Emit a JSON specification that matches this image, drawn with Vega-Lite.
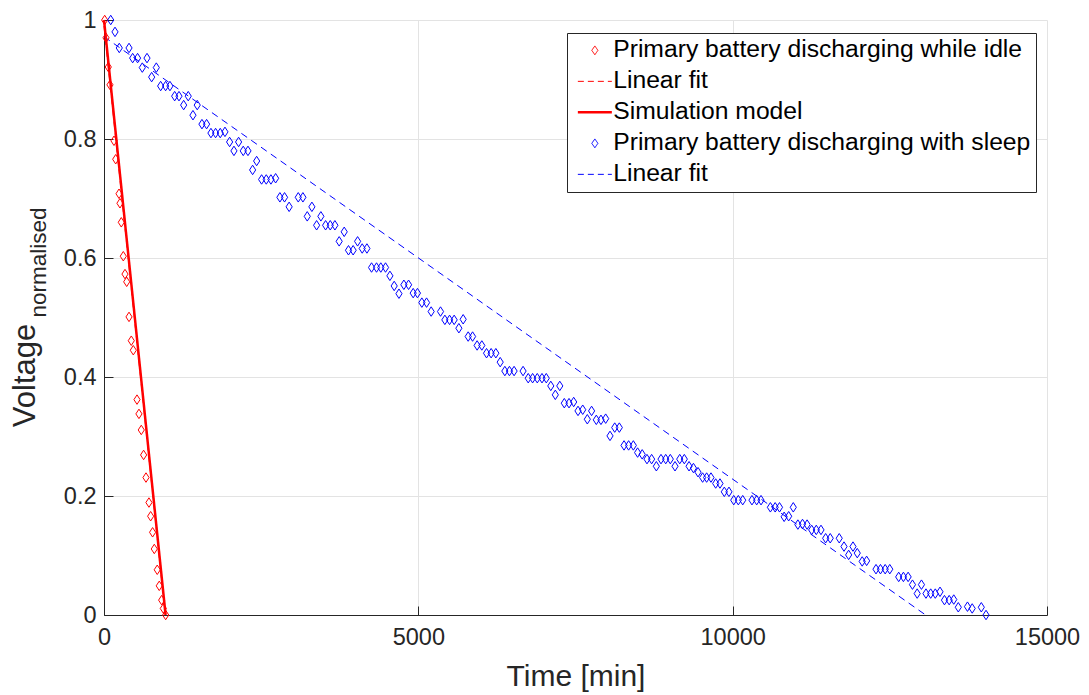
{
  "$schema": "https://vega.github.io/schema/vega-lite/v6.json",
  "width": 943,
  "height": 595,
  "autosize": {"type": "none"},
  "padding": {"left": 104, "top": 20, "right": 42, "bottom": 80},
  "background": "white",
  "config": {
    "font": "Liberation Sans",
    "view": {"stroke": null},
    "axis": {
      "labelFont": "Liberation Sans",
      "titleFont": "Liberation Sans",
      "labelColor": "#262626",
      "titleColor": "#262626",
      "titleFontWeight": "normal",
      "domainColor": "#262626",
      "tickColor": "#262626",
      "gridColor": "#e3e3e3",
      "labelFlush": false,
      "labelOverlap": false,
      "labelBound": false
    },
    "legend": {
      "labelFont": "Liberation Sans"
    }
  },
  "datasets": {
    "measured": [
      {"series": "Primary battery discharging while idle", "time": 11, "voltage": 1.0},
      {"series": "Primary battery discharging while idle", "time": 32, "voltage": 0.97},
      {"series": "Primary battery discharging while idle", "time": 68, "voltage": 0.921},
      {"series": "Primary battery discharging while idle", "time": 95, "voltage": 0.891},
      {"series": "Primary battery discharging while idle", "time": 159, "voltage": 0.797},
      {"series": "Primary battery discharging while idle", "time": 186, "voltage": 0.766},
      {"series": "Primary battery discharging while idle", "time": 239, "voltage": 0.708},
      {"series": "Primary battery discharging while idle", "time": 254, "voltage": 0.692},
      {"series": "Primary battery discharging while idle", "time": 275, "voltage": 0.66},
      {"series": "Primary battery discharging while idle", "time": 307, "voltage": 0.603},
      {"series": "Primary battery discharging while idle", "time": 334, "voltage": 0.573},
      {"series": "Primary battery discharging while idle", "time": 361, "voltage": 0.56},
      {"series": "Primary battery discharging while idle", "time": 398, "voltage": 0.501},
      {"series": "Primary battery discharging while idle", "time": 434, "voltage": 0.461},
      {"series": "Primary battery discharging while idle", "time": 466, "voltage": 0.445},
      {"series": "Primary battery discharging while idle", "time": 525, "voltage": 0.362},
      {"series": "Primary battery discharging while idle", "time": 556, "voltage": 0.338},
      {"series": "Primary battery discharging while idle", "time": 593, "voltage": 0.311},
      {"series": "Primary battery discharging while idle", "time": 630, "voltage": 0.269},
      {"series": "Primary battery discharging while idle", "time": 668, "voltage": 0.231},
      {"series": "Primary battery discharging while idle", "time": 715, "voltage": 0.189},
      {"series": "Primary battery discharging while idle", "time": 742, "voltage": 0.166},
      {"series": "Primary battery discharging while idle", "time": 773, "voltage": 0.139},
      {"series": "Primary battery discharging while idle", "time": 800, "voltage": 0.111},
      {"series": "Primary battery discharging while idle", "time": 847, "voltage": 0.076},
      {"series": "Primary battery discharging while idle", "time": 879, "voltage": 0.049},
      {"series": "Primary battery discharging while idle", "time": 917, "voltage": 0.025},
      {"series": "Primary battery discharging while idle", "time": 943, "voltage": 0.011},
      {"series": "Primary battery discharging while idle", "time": 981, "voltage": 0.0},
      {"series": "Primary battery discharging with sleep", "time": 107, "voltage": 1.0},
      {"series": "Primary battery discharging with sleep", "time": 175, "voltage": 0.98},
      {"series": "Primary battery discharging with sleep", "time": 243, "voltage": 0.953},
      {"series": "Primary battery discharging with sleep", "time": 398, "voltage": 0.953},
      {"series": "Primary battery discharging with sleep", "time": 456, "voltage": 0.936},
      {"series": "Primary battery discharging with sleep", "time": 534, "voltage": 0.936},
      {"series": "Primary battery discharging with sleep", "time": 609, "voltage": 0.92},
      {"series": "Primary battery discharging with sleep", "time": 684, "voltage": 0.936},
      {"series": "Primary battery discharging with sleep", "time": 758, "voltage": 0.904},
      {"series": "Primary battery discharging with sleep", "time": 832, "voltage": 0.92},
      {"series": "Primary battery discharging with sleep", "time": 901, "voltage": 0.889},
      {"series": "Primary battery discharging with sleep", "time": 980, "voltage": 0.889},
      {"series": "Primary battery discharging with sleep", "time": 1049, "voltage": 0.889},
      {"series": "Primary battery discharging with sleep", "time": 1124, "voltage": 0.872},
      {"series": "Primary battery discharging with sleep", "time": 1193, "voltage": 0.872},
      {"series": "Primary battery discharging with sleep", "time": 1267, "voltage": 0.857},
      {"series": "Primary battery discharging with sleep", "time": 1340, "voltage": 0.872},
      {"series": "Primary battery discharging with sleep", "time": 1415, "voltage": 0.84},
      {"series": "Primary battery discharging with sleep", "time": 1483, "voltage": 0.857},
      {"series": "Primary battery discharging with sleep", "time": 1558, "voltage": 0.825},
      {"series": "Primary battery discharging with sleep", "time": 1632, "voltage": 0.825},
      {"series": "Primary battery discharging with sleep", "time": 1701, "voltage": 0.81},
      {"series": "Primary battery discharging with sleep", "time": 1775, "voltage": 0.81},
      {"series": "Primary battery discharging with sleep", "time": 1849, "voltage": 0.81},
      {"series": "Primary battery discharging with sleep", "time": 1924, "voltage": 0.812},
      {"series": "Primary battery discharging with sleep", "time": 1998, "voltage": 0.795},
      {"series": "Primary battery discharging with sleep", "time": 2067, "voltage": 0.78},
      {"series": "Primary battery discharging with sleep", "time": 2141, "voltage": 0.795},
      {"series": "Primary battery discharging with sleep", "time": 2215, "voltage": 0.78},
      {"series": "Primary battery discharging with sleep", "time": 2290, "voltage": 0.78},
      {"series": "Primary battery discharging with sleep", "time": 2364, "voltage": 0.748},
      {"series": "Primary battery discharging with sleep", "time": 2428, "voltage": 0.763},
      {"series": "Primary battery discharging with sleep", "time": 2507, "voltage": 0.732},
      {"series": "Primary battery discharging with sleep", "time": 2581, "voltage": 0.732},
      {"series": "Primary battery discharging with sleep", "time": 2655, "voltage": 0.732},
      {"series": "Primary battery discharging with sleep", "time": 2730, "voltage": 0.734},
      {"series": "Primary battery discharging with sleep", "time": 2798, "voltage": 0.702},
      {"series": "Primary battery discharging with sleep", "time": 2872, "voltage": 0.702},
      {"series": "Primary battery discharging with sleep", "time": 2945, "voltage": 0.686},
      {"series": "Primary battery discharging with sleep", "time": 3090, "voltage": 0.702},
      {"series": "Primary battery discharging with sleep", "time": 3164, "voltage": 0.702},
      {"series": "Primary battery discharging with sleep", "time": 3233, "voltage": 0.67},
      {"series": "Primary battery discharging with sleep", "time": 3307, "voltage": 0.686},
      {"series": "Primary battery discharging with sleep", "time": 3382, "voltage": 0.655},
      {"series": "Primary battery discharging with sleep", "time": 3450, "voltage": 0.67},
      {"series": "Primary battery discharging with sleep", "time": 3525, "voltage": 0.655},
      {"series": "Primary battery discharging with sleep", "time": 3599, "voltage": 0.655},
      {"series": "Primary battery discharging with sleep", "time": 3673, "voltage": 0.655},
      {"series": "Primary battery discharging with sleep", "time": 3741, "voltage": 0.628},
      {"series": "Primary battery discharging with sleep", "time": 3821, "voltage": 0.644},
      {"series": "Primary battery discharging with sleep", "time": 3889, "voltage": 0.613},
      {"series": "Primary battery discharging with sleep", "time": 3963, "voltage": 0.613},
      {"series": "Primary battery discharging with sleep", "time": 4034, "voltage": 0.628},
      {"series": "Primary battery discharging with sleep", "time": 4107, "voltage": 0.616},
      {"series": "Primary battery discharging with sleep", "time": 4182, "voltage": 0.616},
      {"series": "Primary battery discharging with sleep", "time": 4256, "voltage": 0.584},
      {"series": "Primary battery discharging with sleep", "time": 4335, "voltage": 0.584},
      {"series": "Primary battery discharging with sleep", "time": 4403, "voltage": 0.584},
      {"series": "Primary battery discharging with sleep", "time": 4478, "voltage": 0.584},
      {"series": "Primary battery discharging with sleep", "time": 4548, "voltage": 0.57},
      {"series": "Primary battery discharging with sleep", "time": 4616, "voltage": 0.553},
      {"series": "Primary battery discharging with sleep", "time": 4692, "voltage": 0.54},
      {"series": "Primary battery discharging with sleep", "time": 4770, "voltage": 0.555},
      {"series": "Primary battery discharging with sleep", "time": 4845, "voltage": 0.555},
      {"series": "Primary battery discharging with sleep", "time": 4918, "voltage": 0.541},
      {"series": "Primary battery discharging with sleep", "time": 4986, "voltage": 0.541},
      {"series": "Primary battery discharging with sleep", "time": 5056, "voltage": 0.525},
      {"series": "Primary battery discharging with sleep", "time": 5131, "voltage": 0.525},
      {"series": "Primary battery discharging with sleep", "time": 5204, "voltage": 0.51},
      {"series": "Primary battery discharging with sleep", "time": 5353, "voltage": 0.51},
      {"series": "Primary battery discharging with sleep", "time": 5422, "voltage": 0.496},
      {"series": "Primary battery discharging with sleep", "time": 5497, "voltage": 0.496},
      {"series": "Primary battery discharging with sleep", "time": 5570, "voltage": 0.496},
      {"series": "Primary battery discharging with sleep", "time": 5645, "voltage": 0.482},
      {"series": "Primary battery discharging with sleep", "time": 5713, "voltage": 0.497},
      {"series": "Primary battery discharging with sleep", "time": 5793, "voltage": 0.468},
      {"series": "Primary battery discharging with sleep", "time": 5863, "voltage": 0.468},
      {"series": "Primary battery discharging with sleep", "time": 5935, "voltage": 0.453},
      {"series": "Primary battery discharging with sleep", "time": 6010, "voltage": 0.453},
      {"series": "Primary battery discharging with sleep", "time": 6085, "voltage": 0.44},
      {"series": "Primary battery discharging with sleep", "time": 6158, "voltage": 0.44},
      {"series": "Primary battery discharging with sleep", "time": 6233, "voltage": 0.44},
      {"series": "Primary battery discharging with sleep", "time": 6302, "voltage": 0.425},
      {"series": "Primary battery discharging with sleep", "time": 6376, "voltage": 0.41},
      {"series": "Primary battery discharging with sleep", "time": 6449, "voltage": 0.41},
      {"series": "Primary battery discharging with sleep", "time": 6523, "voltage": 0.41},
      {"series": "Primary battery discharging with sleep", "time": 6666, "voltage": 0.41},
      {"series": "Primary battery discharging with sleep", "time": 6748, "voltage": 0.398},
      {"series": "Primary battery discharging with sleep", "time": 6818, "voltage": 0.398},
      {"series": "Primary battery discharging with sleep", "time": 6892, "voltage": 0.398},
      {"series": "Primary battery discharging with sleep", "time": 6967, "voltage": 0.398},
      {"series": "Primary battery discharging with sleep", "time": 7035, "voltage": 0.398},
      {"series": "Primary battery discharging with sleep", "time": 7107, "voltage": 0.385},
      {"series": "Primary battery discharging with sleep", "time": 7179, "voltage": 0.37},
      {"series": "Primary battery discharging with sleep", "time": 7250, "voltage": 0.385},
      {"series": "Primary battery discharging with sleep", "time": 7322, "voltage": 0.356},
      {"series": "Primary battery discharging with sleep", "time": 7397, "voltage": 0.356},
      {"series": "Primary battery discharging with sleep", "time": 7471, "voltage": 0.358},
      {"series": "Primary battery discharging with sleep", "time": 7540, "voltage": 0.343},
      {"series": "Primary battery discharging with sleep", "time": 7615, "voltage": 0.345},
      {"series": "Primary battery discharging with sleep", "time": 7688, "voltage": 0.329},
      {"series": "Primary battery discharging with sleep", "time": 7756, "voltage": 0.343},
      {"series": "Primary battery discharging with sleep", "time": 7831, "voltage": 0.328},
      {"series": "Primary battery discharging with sleep", "time": 7905, "voltage": 0.328},
      {"series": "Primary battery discharging with sleep", "time": 7980, "voltage": 0.33},
      {"series": "Primary battery discharging with sleep", "time": 8049, "voltage": 0.301},
      {"series": "Primary battery discharging with sleep", "time": 8124, "voltage": 0.315},
      {"series": "Primary battery discharging with sleep", "time": 8197, "voltage": 0.315},
      {"series": "Primary battery discharging with sleep", "time": 8272, "voltage": 0.285},
      {"series": "Primary battery discharging with sleep", "time": 8345, "voltage": 0.285},
      {"series": "Primary battery discharging with sleep", "time": 8420, "voltage": 0.285},
      {"series": "Primary battery discharging with sleep", "time": 8488, "voltage": 0.273},
      {"series": "Primary battery discharging with sleep", "time": 8561, "voltage": 0.27},
      {"series": "Primary battery discharging with sleep", "time": 8637, "voltage": 0.262},
      {"series": "Primary battery discharging with sleep", "time": 8711, "voltage": 0.262},
      {"series": "Primary battery discharging with sleep", "time": 8786, "voltage": 0.25},
      {"series": "Primary battery discharging with sleep", "time": 8860, "voltage": 0.262},
      {"series": "Primary battery discharging with sleep", "time": 8935, "voltage": 0.262},
      {"series": "Primary battery discharging with sleep", "time": 9008, "voltage": 0.262},
      {"series": "Primary battery discharging with sleep", "time": 9083, "voltage": 0.25},
      {"series": "Primary battery discharging with sleep", "time": 9158, "voltage": 0.262},
      {"series": "Primary battery discharging with sleep", "time": 9231, "voltage": 0.262},
      {"series": "Primary battery discharging with sleep", "time": 9306, "voltage": 0.25},
      {"series": "Primary battery discharging with sleep", "time": 9376, "voltage": 0.247},
      {"series": "Primary battery discharging with sleep", "time": 9449, "voltage": 0.24},
      {"series": "Primary battery discharging with sleep", "time": 9522, "voltage": 0.231},
      {"series": "Primary battery discharging with sleep", "time": 9586, "voltage": 0.231},
      {"series": "Primary battery discharging with sleep", "time": 9655, "voltage": 0.231},
      {"series": "Primary battery discharging with sleep", "time": 9730, "voltage": 0.221},
      {"series": "Primary battery discharging with sleep", "time": 9798, "voltage": 0.221},
      {"series": "Primary battery discharging with sleep", "time": 9867, "voltage": 0.207},
      {"series": "Primary battery discharging with sleep", "time": 9941, "voltage": 0.207},
      {"series": "Primary battery discharging with sleep", "time": 10017, "voltage": 0.193},
      {"series": "Primary battery discharging with sleep", "time": 10090, "voltage": 0.193},
      {"series": "Primary battery discharging with sleep", "time": 10160, "voltage": 0.193},
      {"series": "Primary battery discharging with sleep", "time": 10307, "voltage": 0.193},
      {"series": "Primary battery discharging with sleep", "time": 10382, "voltage": 0.193},
      {"series": "Primary battery discharging with sleep", "time": 10451, "voltage": 0.193},
      {"series": "Primary battery discharging with sleep", "time": 10600, "voltage": 0.181},
      {"series": "Primary battery discharging with sleep", "time": 10676, "voltage": 0.181},
      {"series": "Primary battery discharging with sleep", "time": 10745, "voltage": 0.181},
      {"series": "Primary battery discharging with sleep", "time": 10819, "voltage": 0.165},
      {"series": "Primary battery discharging with sleep", "time": 10891, "voltage": 0.166},
      {"series": "Primary battery discharging with sleep", "time": 10964, "voltage": 0.181},
      {"series": "Primary battery discharging with sleep", "time": 11037, "voltage": 0.152},
      {"series": "Primary battery discharging with sleep", "time": 11111, "voltage": 0.153},
      {"series": "Primary battery discharging with sleep", "time": 11184, "voltage": 0.152},
      {"series": "Primary battery discharging with sleep", "time": 11257, "voltage": 0.143},
      {"series": "Primary battery discharging with sleep", "time": 11330, "voltage": 0.143},
      {"series": "Primary battery discharging with sleep", "time": 11405, "voltage": 0.143},
      {"series": "Primary battery discharging with sleep", "time": 11479, "voltage": 0.129},
      {"series": "Primary battery discharging with sleep", "time": 11552, "voltage": 0.129},
      {"series": "Primary battery discharging with sleep", "time": 11695, "voltage": 0.129},
      {"series": "Primary battery discharging with sleep", "time": 11771, "voltage": 0.115},
      {"series": "Primary battery discharging with sleep", "time": 11845, "voltage": 0.101},
      {"series": "Primary battery discharging with sleep", "time": 11914, "voltage": 0.115},
      {"series": "Primary battery discharging with sleep", "time": 11982, "voltage": 0.104},
      {"series": "Primary battery discharging with sleep", "time": 12060, "voltage": 0.09},
      {"series": "Primary battery discharging with sleep", "time": 12131, "voltage": 0.091},
      {"series": "Primary battery discharging with sleep", "time": 12280, "voltage": 0.077},
      {"series": "Primary battery discharging with sleep", "time": 12351, "voltage": 0.077},
      {"series": "Primary battery discharging with sleep", "time": 12426, "voltage": 0.077},
      {"series": "Primary battery discharging with sleep", "time": 12499, "voltage": 0.077},
      {"series": "Primary battery discharging with sleep", "time": 12641, "voltage": 0.064},
      {"series": "Primary battery discharging with sleep", "time": 12716, "voltage": 0.064},
      {"series": "Primary battery discharging with sleep", "time": 12791, "voltage": 0.064},
      {"series": "Primary battery discharging with sleep", "time": 12860, "voltage": 0.051},
      {"series": "Primary battery discharging with sleep", "time": 12935, "voltage": 0.036},
      {"series": "Primary battery discharging with sleep", "time": 13003, "voltage": 0.051},
      {"series": "Primary battery discharging with sleep", "time": 13075, "voltage": 0.036},
      {"series": "Primary battery discharging with sleep", "time": 13150, "voltage": 0.036},
      {"series": "Primary battery discharging with sleep", "time": 13223, "voltage": 0.036},
      {"series": "Primary battery discharging with sleep", "time": 13298, "voltage": 0.039},
      {"series": "Primary battery discharging with sleep", "time": 13369, "voltage": 0.025},
      {"series": "Primary battery discharging with sleep", "time": 13444, "voltage": 0.025},
      {"series": "Primary battery discharging with sleep", "time": 13517, "voltage": 0.026},
      {"series": "Primary battery discharging with sleep", "time": 13589, "voltage": 0.013},
      {"series": "Primary battery discharging with sleep", "time": 13735, "voltage": 0.014},
      {"series": "Primary battery discharging with sleep", "time": 13810, "voltage": 0.011},
      {"series": "Primary battery discharging with sleep", "time": 13955, "voltage": 0.013},
      {"series": "Primary battery discharging with sleep", "time": 14030, "voltage": 0.0}
    ],
    "fits": [
      {"series": "Linear fit ", "time": 0, "voltage": 0.99},
      {"series": "Linear fit ", "time": 975, "voltage": 0.0},
      {"series": "Linear fit", "time": 0, "voltage": 0.972},
      {"series": "Linear fit", "time": 13070, "voltage": 0.0}
    ],
    "model": [
      {"series": "Simulation model", "time": 0, "voltage": 1.0},
      {"series": "Simulation model", "time": 980, "voltage": 0.0}
    ]
  },
  "resolve": {"axis": {"y": "independent"}},
  "encoding": {
    "x": {
      "field": "time",
      "type": "quantitative",
      "scale": {"domain": [0, 15000], "nice": false, "zero": false},
      "axis": {
        "values": [0, 5000, 10000, 15000],
        "format": "d",
        "labelFontSize": 23.5,
        "labelPadding": 19,
        "tickSize": -9,
        "grid": true,
        "title": "Time [min]",
        "titleFontSize": 30,
        "titleBaseline": "alphabetic",
        "titleY": 70
      }
    },
    "color": {
      "field": "series",
      "type": "nominal",
      "scale": {
        "domain": [
          "Primary battery discharging while idle",
          "Linear fit ",
          "Simulation model",
          "Primary battery discharging with sleep",
          "Linear fit"
        ],
        "range": ["#ff0000", "#ff0000", "#ff0000", "#0000ff", "#0000ff"]
      },
      "legend": {
        "title": null,
        "orient": "none",
        "legendX": 463,
        "legendY": 13,
        "padding": 5,
        "strokeColor": "#262626",
        "fillColor": "white",
        "labelFontSize": 24.7,
        "labelColor": "#000000",
        "labelLimit": 600,
        "labelOffset": 6,
        "symbolOffset": 10.5,
        "rowPadding": 5,
        "symbolSize": 1156,
        "symbolStrokeWidth": 1,
        "symbolOpacity": 1,
        "encode": {
          "symbols": {
            "update": {
              "shape": {"signal": "indexof(datum.value, 'Primary') === 0 ? 'M0,-0.26L0.18,0L0,0.26L-0.18,0Z' : 'stroke'"},
              "strokeDash": {"signal": "indexof(datum.value, 'Linear') === 0 ? [6,4] : [1,0]"},
              "strokeWidth": {"signal": "datum.value === 'Simulation model' ? 2.5 : 1"},
              "fill": {"value": "transparent"}
            }
          }
        }
      }
    }
  },
  "layer": [
    {
      "data": {"name": "fits"},
      "mark": {"type": "line", "strokeDash": [7, 5], "strokeWidth": 1},
      "encoding": {
        "y": {"field": "voltage", "type": "quantitative", "scale": {"domain": [0, 1], "nice": false}, "axis": null}
      }
    },
    {
      "data": {"name": "model"},
      "mark": {"type": "line", "strokeWidth": 2.5},
      "encoding": {
        "y": {
          "field": "voltage",
          "type": "quantitative",
          "scale": {"domain": [0, 1], "nice": false},
          "axis": {
            "orient": "left",
            "title": "normalised",
            "titleFontSize": 22.5,
            "labels": false,
            "ticks": false,
            "domain": false,
            "grid": false,
            "titleAngle": -90,
            "titleAlign": "center",
            "titleBaseline": "alphabetic",
            "titleX": -59,
            "titleY": 242
          }
        }
      }
    },
    {
      "data": {"name": "measured"},
      "mark": {"type": "point", "shape": "M0,-1L0.65,0L0,1L-0.65,0Z", "filled": false, "size": 90, "strokeWidth": 1, "opacity": 1},
      "encoding": {
        "y": {
          "field": "voltage",
          "type": "quantitative",
          "scale": {"domain": [0, 1], "nice": false},
          "axis": {
            "orient": "left",
            "values": [0, 0.2, 0.4, 0.6, 0.8, 1],
            "format": "~g",
            "labelFontSize": 23.5,
            "labelPadding": 17,
            "tickSize": -9,
            "grid": true,
            "title": "Voltage",
            "titleFontSize": 31,
            "titleAngle": -90,
            "titleAlign": "center",
            "titleBaseline": "alphabetic",
            "titleX": -70,
            "titleY": 355
          }
        }
      }
    }
  ]
}
